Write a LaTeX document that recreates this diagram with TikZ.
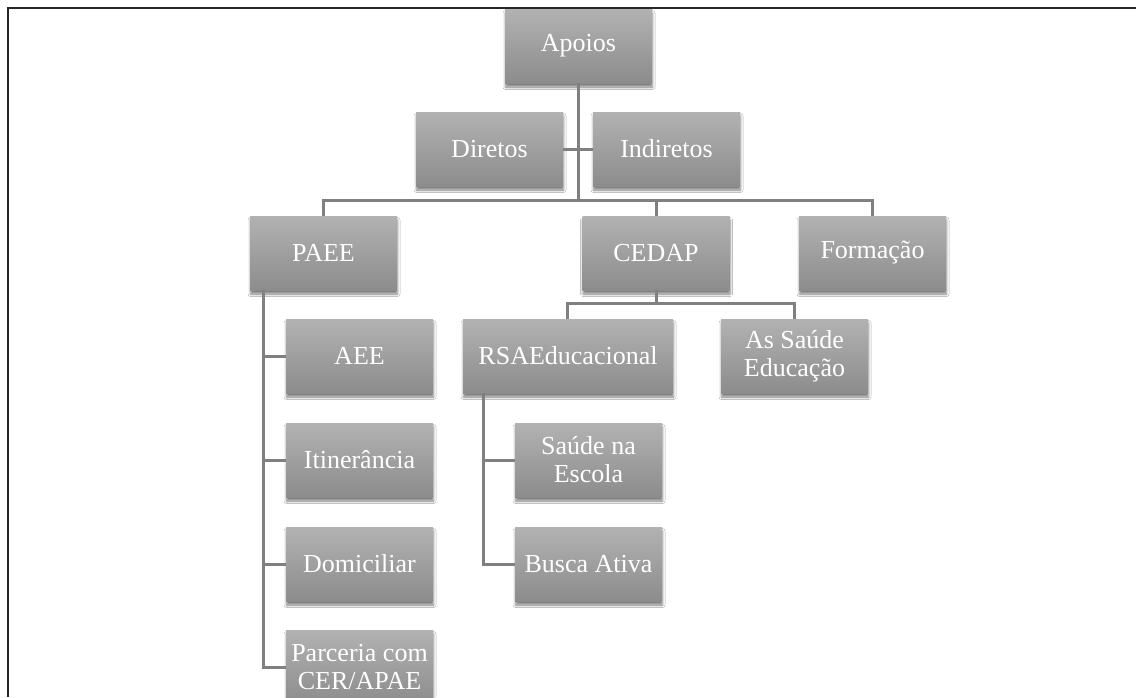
\documentclass[tikz,border=0pt]{standalone}
\usepackage{fontspec}
\setmainfont{Liberation Serif}
\usetikzlibrary{shadows.blur,calc}
\definecolor{boxtop}{RGB}{178,178,178}
\definecolor{boxbot}{RGB}{140,140,140}
\definecolor{conn}{RGB}{128,128,128}
\begin{document}
\begin{tikzpicture}[x=1pt,y=-1pt,
  orgbox/.style={rectangle, minimum width=147pt, minimum height=74pt, inner sep=2pt,
    top color=boxtop, bottom color=boxbot, draw=none, text=white, align=center,
    font=\fontsize{26}{28}\selectfont,
    blur shadow={shadow xshift=0.5pt, shadow yshift=-4pt, shadow blur radius=2.5pt, shadow opacity=50}},
  link/.style={draw=conn, line width=3pt}]
\useasboundingbox (0,0) rectangle (1136,697);
\fill[white] (0,0) rectangle (1136,697);
% frame
\draw[line width=2.5pt, black!85] (8,697) -- (8,8) -- (1136,8);
% nodes
\node[orgbox] (Apoios) at (578.5,46) {Apoios};
\node[orgbox] (Diretos) at (489.5,149) {Diretos};
\node[orgbox] (Indiretos) at (666.5,149) {Indiretos};
\node[orgbox] (PAEE) at (323.5,253) {PAEE};
\node[orgbox] (CEDAP) at (656,253) {CEDAP};
\node[orgbox] (Formacao) at (872.5,253) {Formação};
\node[orgbox] (AEE) at (359.5,356) {AEE};
\node[orgbox, minimum width=210pt] (RSA) at (568,356) {RSAEducacional};
\node[orgbox] (AsSaude) at (794.5,356) {As Saúde\\Educação};
\node[orgbox] (Itin) at (359.5,460) {Itinerância};
\node[orgbox] (SaudeEsc) at (588.5,460) {Saúde na\\Escola};
\node[orgbox] (Domic) at (359.5,564) {Domiciliar};
\node[orgbox] (Busca) at (588.5,564) {Busca Ativa};
\node[orgbox] (Parceria) at (359.5,667) {Parceria com\\CER/APAE};
% connectors
\coordinate (bus) at (578,201);
\draw[link] (Apoios.south -| bus) -- (bus);
\draw[link] (Diretos) -- (Indiretos);
\draw[link] (PAEE.north) -- ++(0,-15) -| (Formacao.north);
\draw[link] (CEDAP.north) -- ++(0,-16);
\draw[link] (CEDAP.south) -- ++(0,14);
\draw[link] ($(RSA.north)+(-1,0)$) -- ++(0,-15) -| (AsSaude.north);
\coordinate (ps) at ($(PAEE.south west)+(14,0)$);
\draw[link] (ps) |- (Parceria.west);
\foreach \n in {AEE,Itin,Domic} \draw[link] (ps |- \n.west) -- (\n.west);
\coordinate (rs) at ($(RSA.south west)+(21,0)$);
\draw[link] (rs) |- (Busca.west);
\draw[link] (rs |- SaudeEsc.west) -- (SaudeEsc.west);
\end{tikzpicture}
\end{document}
